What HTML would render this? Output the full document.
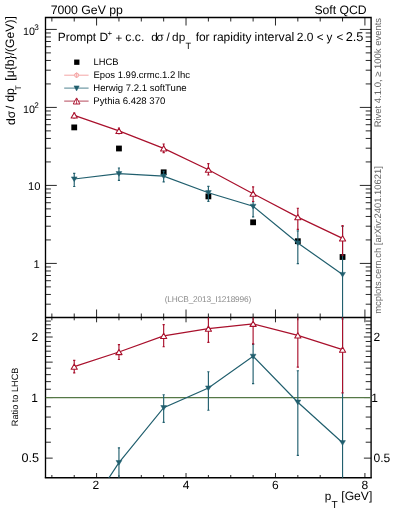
<!DOCTYPE html><html><head><meta charset="utf-8"><style>html,body{margin:0;padding:0;background:#fff;width:393px;height:512px;overflow:hidden}svg{position:absolute;left:0;top:0;will-change:transform}text{text-rendering:geometricPrecision;font-family:"Liberation Sans",sans-serif}</style></head><body><svg width="393" height="512" viewBox="0 0 393 512">
<defs><clipPath id="cm"><rect x="45.50" y="17.50" width="325.60" height="300.00"/></clipPath>
<clipPath id="cr"><rect x="45.50" y="317.50" width="325.60" height="160.30"/></clipPath></defs>
<path d="M51.87,17.50L51.87,21.50M51.87,317.50L51.87,313.50M51.87,317.50L51.87,320.30M51.87,477.80L51.87,475.00M74.23,17.50L74.23,21.50M74.23,317.50L74.23,313.50M74.23,317.50L74.23,320.30M74.23,477.80L74.23,475.00M96.59,17.50L96.59,25.50M96.59,317.50L96.59,309.50M96.59,317.50L96.59,322.30M96.59,477.80L96.59,473.00M118.95,17.50L118.95,21.50M118.95,317.50L118.95,313.50M118.95,317.50L118.95,320.30M118.95,477.80L118.95,475.00M141.31,17.50L141.31,21.50M141.31,317.50L141.31,313.50M141.31,317.50L141.31,320.30M141.31,477.80L141.31,475.00M163.67,17.50L163.67,21.50M163.67,317.50L163.67,313.50M163.67,317.50L163.67,320.30M163.67,477.80L163.67,475.00M186.03,17.50L186.03,25.50M186.03,317.50L186.03,309.50M186.03,317.50L186.03,322.30M186.03,477.80L186.03,473.00M208.39,17.50L208.39,21.50M208.39,317.50L208.39,313.50M208.39,317.50L208.39,320.30M208.39,477.80L208.39,475.00M230.75,17.50L230.75,21.50M230.75,317.50L230.75,313.50M230.75,317.50L230.75,320.30M230.75,477.80L230.75,475.00M253.11,17.50L253.11,21.50M253.11,317.50L253.11,313.50M253.11,317.50L253.11,320.30M253.11,477.80L253.11,475.00M275.47,17.50L275.47,25.50M275.47,317.50L275.47,309.50M275.47,317.50L275.47,322.30M275.47,477.80L275.47,473.00M297.83,17.50L297.83,21.50M297.83,317.50L297.83,313.50M297.83,317.50L297.83,320.30M297.83,477.80L297.83,475.00M320.19,17.50L320.19,21.50M320.19,317.50L320.19,313.50M320.19,317.50L320.19,320.30M320.19,477.80L320.19,475.00M342.55,17.50L342.55,21.50M342.55,317.50L342.55,313.50M342.55,317.50L342.55,320.30M342.55,477.80L342.55,475.00M364.91,17.50L364.91,25.50M364.91,317.50L364.91,309.50M364.91,317.50L364.91,322.30M364.91,477.80L364.91,473.00M45.50,304.19L50.90,304.19M371.10,304.19L365.70,304.19M45.50,294.45L50.90,294.45M371.10,294.45L365.70,294.45M45.50,286.89L50.90,286.89M371.10,286.89L365.70,286.89M45.50,280.71L50.90,280.71M371.10,280.71L365.70,280.71M45.50,275.49L50.90,275.49M371.10,275.49L365.70,275.49M45.50,270.97L50.90,270.97M371.10,270.97L365.70,270.97M45.50,266.98L50.90,266.98M371.10,266.98L365.70,266.98M45.50,263.41L56.80,263.41M371.10,263.41L359.80,263.41M45.50,239.93L50.90,239.93M371.10,239.93L365.70,239.93M45.50,226.19L50.90,226.19M371.10,226.19L365.70,226.19M45.50,216.45L50.90,216.45M371.10,216.45L365.70,216.45M45.50,208.89L50.90,208.89M371.10,208.89L365.70,208.89M45.50,202.71L50.90,202.71M371.10,202.71L365.70,202.71M45.50,197.49L50.90,197.49M371.10,197.49L365.70,197.49M45.50,192.97L50.90,192.97M371.10,192.97L365.70,192.97M45.50,188.98L50.90,188.98M371.10,188.98L365.70,188.98M45.50,185.41L56.80,185.41M371.10,185.41L359.80,185.41M45.50,161.93L50.90,161.93M371.10,161.93L365.70,161.93M45.50,148.19L50.90,148.19M371.10,148.19L365.70,148.19M45.50,138.45L50.90,138.45M371.10,138.45L365.70,138.45M45.50,130.89L50.90,130.89M371.10,130.89L365.70,130.89M45.50,124.71L50.90,124.71M371.10,124.71L365.70,124.71M45.50,119.49L50.90,119.49M371.10,119.49L365.70,119.49M45.50,114.97L50.90,114.97M371.10,114.97L365.70,114.97M45.50,110.98L50.90,110.98M371.10,110.98L365.70,110.98M45.50,107.41L56.80,107.41M371.10,107.41L359.80,107.41M45.50,83.93L50.90,83.93M371.10,83.93L365.70,83.93M45.50,70.19L50.90,70.19M371.10,70.19L365.70,70.19M45.50,60.45L50.90,60.45M371.10,60.45L365.70,60.45M45.50,52.89L50.90,52.89M371.10,52.89L365.70,52.89M45.50,46.71L50.90,46.71M371.10,46.71L365.70,46.71M45.50,41.49L50.90,41.49M371.10,41.49L365.70,41.49M45.50,36.97L50.90,36.97M371.10,36.97L365.70,36.97M45.50,32.98L50.90,32.98M371.10,32.98L365.70,32.98M45.50,29.41L56.80,29.41M371.10,29.41L359.80,29.41M45.50,458.14L52.70,458.14M371.10,458.14L363.90,458.14M45.50,442.21L50.90,442.21M371.10,442.21L365.70,442.21M45.50,428.74L50.90,428.74M371.10,428.74L365.70,428.74M45.50,417.07L50.90,417.07M371.10,417.07L365.70,417.07M45.50,406.78L50.90,406.78M371.10,406.78L365.70,406.78M45.50,397.57L52.70,397.57M371.10,397.57L363.90,397.57M45.50,389.24L50.90,389.24M371.10,389.24L365.70,389.24M45.50,381.64L50.90,381.64M371.10,381.64L365.70,381.64M45.50,374.64L50.90,374.64M371.10,374.64L365.70,374.64M45.50,368.17L50.90,368.17M371.10,368.17L365.70,368.17M45.50,362.14L52.70,362.14M371.10,362.14L363.90,362.14M45.50,356.50L50.90,356.50M371.10,356.50L365.70,356.50M45.50,351.20L50.90,351.20M371.10,351.20L365.70,351.20M45.50,346.21L50.90,346.21M371.10,346.21L365.70,346.21M45.50,341.48L50.90,341.48M371.10,341.48L365.70,341.48M45.50,337.00L52.70,337.00M371.10,337.00L363.90,337.00M45.50,332.74L50.90,332.74M371.10,332.74L365.70,332.74M45.50,328.67L50.90,328.67M371.10,328.67L365.70,328.67M45.50,324.79L50.90,324.79M371.10,324.79L365.70,324.79M45.50,321.07L50.90,321.07M371.10,321.07L365.70,321.07" stroke="#000" stroke-width="0.85" fill="none"/>
<path d="M45.5,477.8 V17.5 H371.1 V477.8 M45.5,317.5 H371.1" fill="none" stroke="#000" stroke-width="1.35"/>
<path d="M44.8,477.8 H371.8" fill="none" stroke="#000" stroke-width="1.6"/>
<g clip-path="url(#cm)">
<rect x="71.33" y="124.50" width="5.80" height="5.80" fill="#000"/>
<rect x="116.05" y="145.60" width="5.80" height="5.80" fill="#000"/>
<rect x="160.77" y="169.40" width="5.80" height="5.80" fill="#000"/>
<rect x="205.49" y="193.50" width="5.80" height="5.80" fill="#000"/>
<rect x="250.21" y="219.40" width="5.80" height="5.80" fill="#000"/>
<rect x="294.93" y="238.30" width="5.80" height="5.80" fill="#000"/>
<rect x="339.65" y="254.10" width="5.80" height="5.80" fill="#000"/>
<polyline points="74.23,179.00 118.95,173.70 163.67,176.20 208.39,192.70 253.11,206.30 297.83,243.00 342.55,274.50" fill="none" stroke="#215f6e" stroke-width="1.2"/>
<path d="M74.23,173.40V186.50M73.13,173.40H75.33M73.13,186.50H75.33" stroke="#215f6e" stroke-width="1.15" fill="none"/>
<path d="M118.95,168.00V180.30M117.85,168.00H120.05M117.85,180.30H120.05" stroke="#215f6e" stroke-width="1.15" fill="none"/>
<path d="M163.67,171.20V181.90M162.57,171.20H164.77M162.57,181.90H164.77" stroke="#215f6e" stroke-width="1.15" fill="none"/>
<path d="M208.39,186.40V201.30M207.29,186.40H209.49M207.29,201.30H209.49" stroke="#215f6e" stroke-width="1.15" fill="none"/>
<path d="M253.11,201.70V216.90M252.01,201.70H254.21M252.01,216.90H254.21" stroke="#215f6e" stroke-width="1.15" fill="none"/>
<path d="M297.83,230.80V263.60M296.73,230.80H298.93M296.73,263.60H298.93" stroke="#215f6e" stroke-width="1.15" fill="none"/>
<path d="M342.55,226.50V354.50M341.45,226.50H343.65M341.45,354.50H343.65" stroke="#215f6e" stroke-width="1.15" fill="none"/>
<path d="M71.33,176.90L77.13,176.90L74.23,181.60Z" fill="#215f6e" stroke="#215f6e" stroke-width="0.5"/>
<path d="M116.05,171.60L121.85,171.60L118.95,176.30Z" fill="#215f6e" stroke="#215f6e" stroke-width="0.5"/>
<path d="M160.77,174.10L166.57,174.10L163.67,178.80Z" fill="#215f6e" stroke="#215f6e" stroke-width="0.5"/>
<path d="M205.49,190.60L211.29,190.60L208.39,195.30Z" fill="#215f6e" stroke="#215f6e" stroke-width="0.5"/>
<path d="M250.21,204.20L256.01,204.20L253.11,208.90Z" fill="#215f6e" stroke="#215f6e" stroke-width="0.5"/>
<path d="M294.93,240.90L300.73,240.90L297.83,245.60Z" fill="#215f6e" stroke="#215f6e" stroke-width="0.5"/>
<path d="M339.65,272.40L345.45,272.40L342.55,277.10Z" fill="#215f6e" stroke="#215f6e" stroke-width="0.5"/>
<polyline points="74.23,115.40 118.95,130.85 163.67,148.40 208.39,169.70 253.11,193.70 297.83,217.10 342.55,238.40" fill="none" stroke="#a9102c" stroke-width="1.2"/>
<path d="M74.23,113.00V117.80M73.13,113.00H75.33M73.13,117.80H75.33" stroke="#a9102c" stroke-width="1.15" fill="none"/>
<path d="M118.95,127.95V133.75M117.85,127.95H120.05M117.85,133.75H120.05" stroke="#a9102c" stroke-width="1.15" fill="none"/>
<path d="M163.67,144.00V152.60M162.57,144.00H164.77M162.57,152.60H164.77" stroke="#a9102c" stroke-width="1.15" fill="none"/>
<path d="M208.39,163.60V175.00M207.29,163.60H209.49M207.29,175.00H209.49" stroke="#a9102c" stroke-width="1.15" fill="none"/>
<path d="M253.11,186.80V201.50M252.01,186.80H254.21M252.01,201.50H254.21" stroke="#a9102c" stroke-width="1.15" fill="none"/>
<path d="M297.83,208.20V229.40M296.73,208.20H298.93M296.73,229.40H298.93" stroke="#a9102c" stroke-width="1.15" fill="none"/>
<path d="M342.55,225.60V255.20M341.45,225.60H343.65M341.45,255.20H343.65" stroke="#a9102c" stroke-width="1.15" fill="none"/>
<path d="M74.23,112.80L77.33,118.00L71.13,118.00Z" fill="#fff" stroke="#a9102c" stroke-width="1.1" stroke-linejoin="round"/>
<path d="M118.95,128.25L122.05,133.45L115.85,133.45Z" fill="#fff" stroke="#a9102c" stroke-width="1.1" stroke-linejoin="round"/>
<path d="M163.67,145.80L166.77,151.00L160.57,151.00Z" fill="#fff" stroke="#a9102c" stroke-width="1.1" stroke-linejoin="round"/>
<path d="M208.39,167.10L211.49,172.30L205.29,172.30Z" fill="#fff" stroke="#a9102c" stroke-width="1.1" stroke-linejoin="round"/>
<path d="M253.11,191.10L256.21,196.30L250.01,196.30Z" fill="#fff" stroke="#a9102c" stroke-width="1.1" stroke-linejoin="round"/>
<path d="M297.83,214.50L300.93,219.70L294.73,219.70Z" fill="#fff" stroke="#a9102c" stroke-width="1.1" stroke-linejoin="round"/>
<path d="M342.55,235.80L345.65,241.00L339.45,241.00Z" fill="#fff" stroke="#a9102c" stroke-width="1.1" stroke-linejoin="round"/>
</g>
<g clip-path="url(#cr)">
<line x1="45.5" y1="397.57" x2="371.1" y2="397.57" stroke="#557846" stroke-width="1.15"/>
<polyline points="74.23,530.67 118.95,462.57 163.67,407.63 208.39,388.03 253.11,356.30 297.83,402.21 342.55,442.71" fill="none" stroke="#215f6e" stroke-width="1.2"/>
<path d="M74.23,516.23V550.02M73.13,516.23H75.33M73.13,550.02H75.33" stroke="#215f6e" stroke-width="1.15" fill="none"/>
<path d="M118.95,447.87V479.60M117.85,447.87H120.05M117.85,479.60H120.05" stroke="#215f6e" stroke-width="1.15" fill="none"/>
<path d="M163.67,394.73V422.33M162.57,394.73H164.77M162.57,422.33H164.77" stroke="#215f6e" stroke-width="1.15" fill="none"/>
<path d="M208.39,371.78V410.21M207.29,371.78H209.49M207.29,410.21H209.49" stroke="#215f6e" stroke-width="1.15" fill="none"/>
<path d="M253.11,344.43V383.64M252.01,344.43H254.21M252.01,383.64H254.21" stroke="#215f6e" stroke-width="1.15" fill="none"/>
<path d="M297.83,370.74V455.35M296.73,370.74H298.93M296.73,455.35H298.93" stroke="#215f6e" stroke-width="1.15" fill="none"/>
<path d="M342.55,318.90V649.07M341.45,318.90H343.65M341.45,649.07H343.65" stroke="#215f6e" stroke-width="1.15" fill="none"/>
<path d="M71.33,528.57L77.13,528.57L74.23,533.27Z" fill="#215f6e" stroke="#215f6e" stroke-width="0.5"/>
<path d="M116.05,460.47L121.85,460.47L118.95,465.17Z" fill="#215f6e" stroke="#215f6e" stroke-width="0.5"/>
<path d="M160.77,405.53L166.57,405.53L163.67,410.23Z" fill="#215f6e" stroke="#215f6e" stroke-width="0.5"/>
<path d="M205.49,385.93L211.29,385.93L208.39,390.63Z" fill="#215f6e" stroke="#215f6e" stroke-width="0.5"/>
<path d="M250.21,354.20L256.01,354.20L253.11,358.90Z" fill="#215f6e" stroke="#215f6e" stroke-width="0.5"/>
<path d="M294.93,400.11L300.73,400.11L297.83,404.81Z" fill="#215f6e" stroke="#215f6e" stroke-width="0.5"/>
<path d="M339.65,440.61L345.45,440.61L342.55,445.31Z" fill="#215f6e" stroke="#215f6e" stroke-width="0.5"/>
<polyline points="74.23,366.62 118.95,352.04 163.67,335.92 208.39,328.70 253.11,323.80 297.83,335.40 342.55,349.59" fill="none" stroke="#a9102c" stroke-width="1.2"/>
<path d="M74.23,360.43V372.81M73.13,360.43H75.33M73.13,372.81H75.33" stroke="#a9102c" stroke-width="1.15" fill="none"/>
<path d="M118.95,344.56V359.52M117.85,344.56H120.05M117.85,359.52H120.05" stroke="#a9102c" stroke-width="1.15" fill="none"/>
<path d="M163.67,324.57V346.75M162.57,324.57H164.77M162.57,346.75H164.77" stroke="#a9102c" stroke-width="1.15" fill="none"/>
<path d="M208.39,312.96V342.37M207.29,312.96H209.49M207.29,342.37H209.49" stroke="#a9102c" stroke-width="1.15" fill="none"/>
<path d="M253.11,306.00V343.92M252.01,306.00H254.21M252.01,343.92H254.21" stroke="#a9102c" stroke-width="1.15" fill="none"/>
<path d="M297.83,312.45V367.13M296.73,312.45H298.93M296.73,367.13H298.93" stroke="#a9102c" stroke-width="1.15" fill="none"/>
<path d="M342.55,316.57V392.93M341.45,316.57H343.65M341.45,392.93H343.65" stroke="#a9102c" stroke-width="1.15" fill="none"/>
<path d="M74.23,364.02L77.33,369.22L71.13,369.22Z" fill="#fff" stroke="#a9102c" stroke-width="1.1" stroke-linejoin="round"/>
<path d="M118.95,349.44L122.05,354.64L115.85,354.64Z" fill="#fff" stroke="#a9102c" stroke-width="1.1" stroke-linejoin="round"/>
<path d="M163.67,333.32L166.77,338.52L160.57,338.52Z" fill="#fff" stroke="#a9102c" stroke-width="1.1" stroke-linejoin="round"/>
<path d="M208.39,326.10L211.49,331.30L205.29,331.30Z" fill="#fff" stroke="#a9102c" stroke-width="1.1" stroke-linejoin="round"/>
<path d="M253.11,321.20L256.21,326.40L250.01,326.40Z" fill="#fff" stroke="#a9102c" stroke-width="1.1" stroke-linejoin="round"/>
<path d="M297.83,332.80L300.93,338.00L294.73,338.00Z" fill="#fff" stroke="#a9102c" stroke-width="1.1" stroke-linejoin="round"/>
<path d="M342.55,346.99L345.65,352.19L339.45,352.19Z" fill="#fff" stroke="#a9102c" stroke-width="1.1" stroke-linejoin="round"/>
</g>
<rect x="74.15" y="59.55" width="5.30" height="5.30" fill="#000"/>
<path d="M64.2,75.2H88.6" stroke="#f4a6a6" stroke-width="1.0"/><circle cx="76.6" cy="75.2" r="2.1" fill="#fde0e0" stroke="#f4a6a6" stroke-width="1.0"/><path d="M76.6,72.4V78" stroke="#f4a6a6" stroke-width="0.9"/>
<path d="M64.2,88.1H88.6" stroke="#4f8391" stroke-width="1.0"/><path d="M74.00,85.90L79.20,85.90L76.60,90.90Z" fill="#215f6e" stroke="#215f6e" stroke-width="0.5"/>
<path d="M64.2,101.1H88.6" stroke="#b5485c" stroke-width="1.0"/><path d="M76.60,97.90L80.00,104.00L73.20,104.00Z" fill="#fff" stroke="#a9102c" stroke-width="0.95" stroke-linejoin="round"/><path d="M76.6,98.2V104" stroke="#a9102c" stroke-width="0.8"/>
<text x="50.63" y="14.00" font-size="12.28" fill="#000" font-family="Liberation Sans, sans-serif" >7000 GeV pp</text>
<text x="314.44" y="14.00" font-size="12.21" fill="#000" font-family="Liberation Sans, sans-serif" >Soft QCD</text>
<text x="57.72" y="41.00" font-size="11.93" fill="#000" font-family="Liberation Sans, sans-serif" >Prompt D</text>
<text x="107.59" y="36.00" font-size="7.90" fill="#000" font-family="Liberation Sans, sans-serif" >+</text>
<text x="115.46" y="42.00" font-size="11.50" fill="#000" font-family="Liberation Sans, sans-serif" >+</text>
<text x="125.34" y="41.00" font-size="12.21" fill="#000" font-family="Liberation Sans, sans-serif" >c.c.</text>
<text x="151.30" y="41.00" font-size="11.70" fill="#000" font-family="Liberation Sans, sans-serif" letter-spacing="-1.3">d&#963;</text>
<text x="166.55" y="41.00" font-size="11.70" fill="#000" font-family="Liberation Sans, sans-serif" >/</text>
<text x="172.12" y="41.00" font-size="11.83" fill="#000" font-family="Liberation Sans, sans-serif" >dp</text>
<text x="185.41" y="49.00" font-size="9.18" fill="#000" font-family="Liberation Sans, sans-serif" >T</text>
<text x="195.63" y="41.00" font-size="11.99" fill="#000" font-family="Liberation Sans, sans-serif" >for rapidity</text>
<text x="254.55" y="41.00" font-size="12.34" fill="#000" font-family="Liberation Sans, sans-serif" >interval</text>
<text x="296.77" y="41.00" font-size="12.01" fill="#000" font-family="Liberation Sans, sans-serif" >2.0</text>
<text x="316.73" y="41.00" font-size="11.70" fill="#000" font-family="Liberation Sans, sans-serif" >&lt;</text>
<text x="326.41" y="41.00" font-size="11.70" fill="#000" font-family="Liberation Sans, sans-serif" >y</text>
<text x="336.62" y="41.00" font-size="11.70" fill="#000" font-family="Liberation Sans, sans-serif" >&lt;</text>
<text x="345.63" y="41.00" font-size="12.78" fill="#000" font-family="Liberation Sans, sans-serif" >2.5</text>
<text x="93.52" y="65.00" font-size="9.40" fill="#000" font-family="Liberation Sans, sans-serif" >LHCB</text>
<text x="93.40" y="78.00" font-size="9.51" fill="#000" font-family="Liberation Sans, sans-serif" >Epos 1.99.crmc.1.2 lhc</text>
<text x="93.34" y="91.00" font-size="9.57" fill="#000" font-family="Liberation Sans, sans-serif" >Herwig 7.2.1 softTune</text>
<text x="93.33" y="104.00" font-size="9.60" fill="#000" font-family="Liberation Sans, sans-serif" >Pythia 6.428 370</text>
<text x="22.96" y="35.00" font-size="10.73" fill="#000" font-family="Liberation Sans, sans-serif" >10</text>
<text x="34.18" y="30.00" font-size="8.20" fill="#000" font-family="Liberation Sans, sans-serif" >3</text>
<text x="22.96" y="113.00" font-size="10.73" fill="#000" font-family="Liberation Sans, sans-serif" >10</text>
<text x="34.31" y="108.00" font-size="8.20" fill="#000" font-family="Liberation Sans, sans-serif" >2</text>
<text x="28.04" y="190.00" font-size="11.20" fill="#000" font-family="Liberation Sans, sans-serif" >10</text>
<text x="33.62" y="268.00" font-size="11.20" fill="#000" font-family="Liberation Sans, sans-serif" >1</text>
<text x="31.40" y="341.00" font-size="12.00" fill="#000" font-family="Liberation Sans, sans-serif" >2</text>
<text x="31.22" y="402.00" font-size="12.00" fill="#000" font-family="Liberation Sans, sans-serif" >1</text>
<text x="21.49" y="462.00" font-size="12.63" fill="#000" font-family="Liberation Sans, sans-serif" >0.5</text>
<text x="373.44" y="341.00" font-size="12.00" fill="#000" font-family="Liberation Sans, sans-serif" >2</text>
<text x="371.22" y="402.00" font-size="12.00" fill="#000" font-family="Liberation Sans, sans-serif" >1</text>
<text x="373.48" y="462.00" font-size="12.05" fill="#000" font-family="Liberation Sans, sans-serif" >0.5</text>
<text x="92.53" y="489.00" font-size="12.00" fill="#000" font-family="Liberation Sans, sans-serif" >2</text>
<text x="182.70" y="489.00" font-size="12.00" fill="#000" font-family="Liberation Sans, sans-serif" >4</text>
<text x="272.10" y="489.00" font-size="12.00" fill="#000" font-family="Liberation Sans, sans-serif" >6</text>
<text x="361.60" y="489.00" font-size="12.00" fill="#000" font-family="Liberation Sans, sans-serif" >8</text>
<text x="324.77" y="500.00" font-size="11.70" fill="#000" font-family="Liberation Sans, sans-serif" >p</text>
<text x="331.53" y="508.00" font-size="10.18" fill="#000" font-family="Liberation Sans, sans-serif" >T</text>
<text x="341.28" y="500.00" font-size="12.17" fill="#000" font-family="Liberation Sans, sans-serif" >[GeV]</text>
<text transform="translate(18.00,426.13) rotate(-90)" font-size="9.17" fill="#000" font-family="Liberation Sans, sans-serif" >Ratio to LHCB</text>
<text transform="translate(381.00,127.36) rotate(-90)" font-size="9.48" fill="#666" font-family="Liberation Sans, sans-serif" >Rivet 4.1.0, &#8805; 100k events</text>
<text transform="translate(381.00,313.81) rotate(-90)" font-size="9.43" fill="#666" font-family="Liberation Sans, sans-serif" >mcplots.cern.ch [arXiv:2401.10621]</text>
<text x="164.66" y="302.00" font-size="8.30" fill="#8a8a8a" font-family="Liberation Sans, sans-serif" letter-spacing="-0.18">(LHCB_2013_I1218996)</text>
<text transform="translate(15.00,125.09) rotate(-90)" font-size="12.12" fill="#000" font-family="Liberation Sans, sans-serif" >d&#963;</text>
<text transform="translate(14.00,108.92) rotate(-90)" font-size="11.50" fill="#000" font-family="Liberation Sans, sans-serif" >/</text>
<text transform="translate(14.00,101.70) rotate(-90)" font-size="12.20" fill="#000" font-family="Liberation Sans, sans-serif" >dp</text>
<text transform="translate(21.00,90.35) rotate(-90)" font-size="8.00" fill="#000" font-family="Liberation Sans, sans-serif" >T</text>
<text transform="translate(14.00,80.67) rotate(-90)" font-size="12.19" fill="#000" font-family="Liberation Sans, sans-serif" >[&#956;{b}/(GeV)]</text>
</svg></body></html>
